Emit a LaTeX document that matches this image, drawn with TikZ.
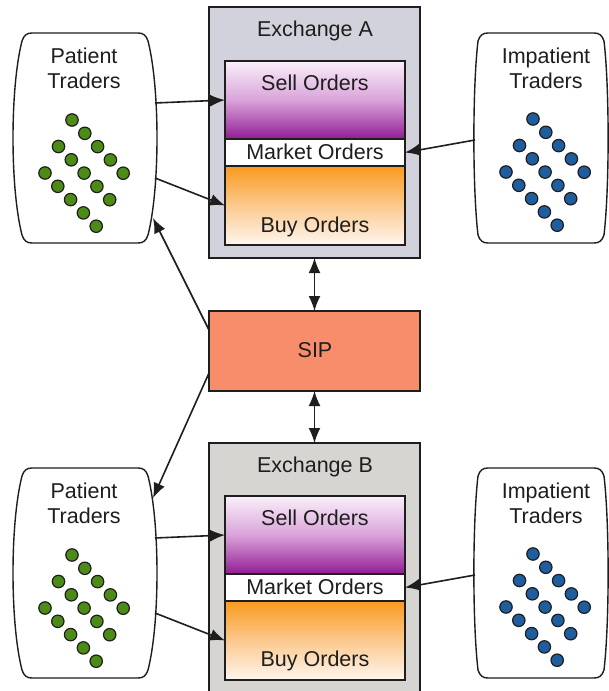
\documentclass[tikz,border=0pt]{standalone}
\usepackage{fontspec}
\setmainfont{Liberation Sans}
\usetikzlibrary{arrows.meta,calc}

\definecolor{exAfill}{HTML}{D2D2DC}
\definecolor{exBfill}{HTML}{D7D5D1}
\definecolor{sipfill}{HTML}{F78D6B}
\definecolor{sellTop}{HTML}{FAF0FA}
\definecolor{sellMid}{HTML}{D9A3DA}
\definecolor{sellBot}{HTML}{921C94}
\definecolor{buyTop}{HTML}{FA9A1E}
\definecolor{buyMid}{HTML}{FBC98E}
\definecolor{buyBot}{HTML}{FFF6EE}
\definecolor{greenDot}{HTML}{4C8C16}
\definecolor{blueDot}{HTML}{1F5E9E}
\definecolor{inkc}{HTML}{1E1E1E}

\tikzset{
  frame/.style={draw=inkc, line width=1.4pt},
  box/.style={frame, anchor=north west, inner sep=0pt, outer sep=0pt},
  exbox/.style={box, minimum width=211pt},
  book/.style={box, minimum width=180pt},
  sellbook/.style={book, minimum height=78pt, top color=sellTop, bottom color=sellBot, middle color=sellMid},
  mktbook/.style={book, minimum height=27pt, fill=white},
  buybook/.style={book, minimum height=79pt, top color=buyTop, bottom color=buyBot, middle color=buyMid},
  hold/.style={draw=none, inner sep=0pt, outer sep=0pt, minimum height=210pt},
  lbl/.style={anchor=base, inner sep=0pt, text=inkc},
  tlbl/.style={lbl, align=center},
  arr/.style={-{Latex[length=15pt,width=12pt]}, line width=1.6pt, draw=inkc},
  darr/.style={{Latex[length=15pt,width=12pt]}-{Latex[length=15pt,width=12pt]}, line width=1.6pt, draw=inkc},
  dot/.style={draw=inkc, line width=1.2pt},
  % barrel-shaped trader group outline; the argument is the x of the side control points
  pics/barrel/.style={code={
    \draw[frame, fill=white] (-53,-105) -- (53,-105)
      .. controls (58,-105) and (61,-103) .. (63,-97)
      .. controls (#1,-50) and (#1,50) .. (63,97)
      .. controls (61,103) and (58,105) .. (53,105)
      -- (-53,105)
      .. controls (-58,105) and (-61,103) .. (-63,97)
      .. controls (-#1,50) and (-#1,-50) .. (-63,-97)
      .. controls (-61,-103) and (-58,-105) .. (-53,-105) -- cycle;
  }},
  % diagonal grid of 3 x 5 trader dots
  pics/dotgrid/.style={code={
    \foreach \i in {0,...,4}
      \foreach \j in {0,1,2}
        \draw[dot, fill=#1] (12.8*\i-13.5*\j, 13.3*\i+26.5*\j) circle (6.2);
  }}
}

\begin{document}
\begin{tikzpicture}[x=1pt, y=-1pt, font=\fontsize{21.5}{25}\selectfont]
\clip (0,0) rectangle (609,691);
\fill[white] (0,0) rectangle (609,691);

% ---------- exchanges ----------
\node[exbox, minimum height=251pt, fill=exAfill] (exA) at (209,7) {};
\node[sellbook] (sellA) at (225,61) {};
\node[mktbook]  (mktA)  at (225,139) {};
\node[buybook]  (buyA)  at (225,166) {};
\node[lbl] (exAt)   at (315,36.5)  {Exchange A};
\node[lbl] (sellAt) at (315,90)    {Sell Orders};
\node[lbl] (mktAt)  at (315,159.5) {Market Orders};
\node[lbl] (buyAt)  at (315,232)   {Buy Orders};

\node[exbox, minimum height=262pt, fill=exBfill] (exB) at (209,443) {};
\node[sellbook] (sellB) at (225,496) {};
\node[mktbook]  (mktB)  at (225,574) {};
\node[buybook]  (buyB)  at (225,601) {};
\node[lbl] (exBt)   at (315,472)   {Exchange B};
\node[lbl] (sellBt) at (315,525)   {Sell Orders};
\node[lbl] (mktBt)  at (315,594.5) {Market Orders};
\node[lbl] (buyBt)  at (315,666)   {Buy Orders};

% ---------- SIP ----------
\node[exbox, minimum height=80pt, fill=sipfill] (sip) at (209,311) {};
\node[lbl] (sipt) at (315,357) {SIP};

% ---------- trader groups ----------
\node[hold, minimum width=144pt] (patA) at (85,138) {};
\node[hold, minimum width=134pt] (impA) at (541,138) {};
\node[hold, minimum width=144pt] (patB) at (85,573) {};
\node[hold, minimum width=134pt] (impB) at (541,573) {};

\pic at (patA) {barrel=75};
\pic at (impA) {barrel=68.5};
\pic at (patB) {barrel=75};
\pic at (impB) {barrel=68.5};

\pic at ($(patA)+(-13,-18)$) {dotgrid=greenDot};
\pic at ($(impA)+(-8,-19)$)  {dotgrid=blueDot};
\pic at ($(patB)+(-13,-18)$) {dotgrid=greenDot};
\pic at ($(impB)+(-8,-19)$)  {dotgrid=blueDot};

% base anchor of a two-line label sits on the second line
\node[tlbl] (patAt) at (84,88.5)  {Patient\\Traders};
\node[tlbl] (impAt) at (546,88.5) {Impatient\\Traders};
\node[tlbl] (patBt) at (84,523.5) {Patient\\Traders};
\node[tlbl] (impBt) at (546,523.5){Impatient\\Traders};

% ---------- order flow ----------
\draw[arr] ($(patA.east)+(-2,-35)$) -- (sellA.west);
\draw[arr] ($(patA.east)+(-2,40)$)  -- (buyA.west);
\draw[arr] ($(impA.west)+(1,2)$)    -- (mktA.east);
\draw[arr] ($(patB.east)+(-2,-35)$) -- (sellB.west);
\draw[arr] ($(patB.east)+(-2,40)$)  -- (buyB.west);
\draw[arr] ($(impB.west)+(1,2)$)    -- (mktB.east);

% ---------- consolidated quote feed ----------
\draw[darr] (exA.south) -- (sip.north);
\draw[darr] (sip.south) -- (exB.north);
\draw[arr] ($(sip.west)+(0,-21)$) -- ($(patA.south east)+(-4,-25)$);
\draw[arr] ($(sip.west)+(0,22)$)  -- ($(patB.north east)+(-4,30)$);
\end{tikzpicture}
\end{document}
